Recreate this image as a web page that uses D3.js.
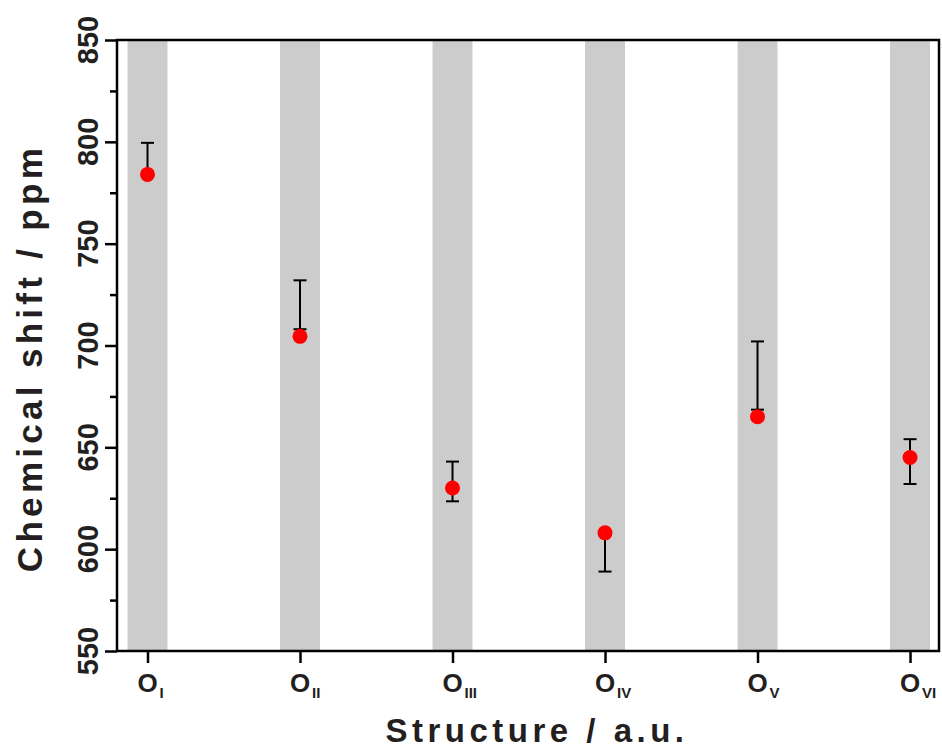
<!DOCTYPE html>
<html><head><meta charset="utf-8">
<script src="https://cdn.jsdelivr.net/npm/d3@7"></script>
<style>
body{margin:0;background:#fff;}
svg{display:block;font-family:"Liberation Sans",Arial,Helvetica,sans-serif;}
</style></head>
<body><svg id="chart" width="942" height="751"></svg>
<script>
// ---- data ----
const categories = ["I", "II", "III", "IV", "V", "VI"];
const positions = [1, 2, 3, 4, 5, 6];
const shiftValues = [784, 704.5, 630, 608, 665, 645];
const errHigh = [799.5, 732, 643, 608, 702, 654];
const errLow = [784, 708, 623.5, 589, 668.5, 632];
const yTicks = [550, 600, 650, 700, 750, 800, 850];
const yMinorTicks = [575, 625, 675, 725, 775, 825];

const svg = d3.select("#chart");
const L = 117, R = 939, T = 40, B = 651;
const x = d3.scaleLinear().domain([0.8, 6.19]).range([L, R]);
const y = d3.scaleLinear().domain([550, 850]).range([B, T]);
const textColor = "#231f20";

// bands
const bandHalf = 0.131;
svg.append("g").selectAll("rect").data(positions).join("rect")
  .attr("x", d => x(d - bandHalf))
  .attr("width", d => x(d + bandHalf) - x(d - bandHalf))
  .attr("y", T).attr("height", B - T)
  .attr("fill", "#cccccc");

// error bars
const eb = svg.append("g").attr("stroke", "#000").attr("stroke-width", 2);
positions.forEach((p, i) => {
  const cx = x(p);
  eb.append("line").attr("x1", cx).attr("x2", cx).attr("y1", y(errLow[i])).attr("y2", y(errHigh[i]));
  [errLow[i], errHigh[i]].forEach(v => {
    eb.append("line").attr("x1", cx - 6.5).attr("x2", cx + 6.5).attr("y1", y(v)).attr("y2", y(v));
  });
});

// points
svg.append("g").selectAll("circle").data(positions).join("circle")
  .attr("cx", d => x(d)).attr("cy", (d, i) => y(shiftValues[i]))
  .attr("r", 7.5).attr("fill", "#ff0000");

// y axis ticks
const yAxis = d3.axisLeft(y).tickValues(yTicks).tickSize(12).tickFormat("");
const gy = svg.append("g").attr("transform", `translate(${L},0)`).call(yAxis);
gy.select(".domain").remove();
gy.selectAll("line").attr("stroke", "#000").attr("stroke-width", 2.5);
const yAxisMinor = d3.axisLeft(y).tickValues(yMinorTicks).tickSize(7).tickFormat("");
const gym = svg.append("g").attr("transform", `translate(${L},0)`).call(yAxisMinor);
gym.select(".domain").remove();
gym.selectAll("line").attr("stroke", "#000").attr("stroke-width", 2.5);

// y tick labels
svg.append("g").selectAll("text").data(yTicks).join("text")
  .attr("transform", d => `translate(98,${y(d)}) rotate(-90)`)
  .attr("text-anchor", "middle")
  .attr("font-size", 29).attr("font-weight", "bold").attr("fill", textColor)
  .text(d => d);

// x axis ticks
const xAxis = d3.axisBottom(x).tickValues(positions).tickSize(12).tickFormat("");
const gx = svg.append("g").attr("transform", `translate(0,${B})`).call(xAxis);
gx.select(".domain").remove();
gx.selectAll("line").attr("stroke", "#000").attr("stroke-width", 2.5);

// x tick labels
const xl = svg.append("g").attr("fill", textColor).attr("font-weight", "bold");
positions.forEach((p, i) => {
  xl.append("text").attr("x", x(p)).attr("y", 692).attr("text-anchor", "middle")
    .attr("font-size", 26).text("O");
  xl.append("text").attr("x", x(p) + 12).attr("y", 698).attr("text-anchor", "start")
    .attr("font-size", 15).attr("font-family", "'Liberation Sans Narrow','Liberation Sans',Arial,sans-serif")
    .text(categories[i]);
});

// frame
svg.append("rect").attr("x", L).attr("y", T).attr("width", R - L).attr("height", B - T)
  .attr("fill", "none").attr("stroke", "#000").attr("stroke-width", 2.5);

// axis titles
svg.append("text").attr("x", 537).attr("y", 742).attr("text-anchor", "middle")
  .attr("font-size", 33).attr("font-weight", "bold").attr("letter-spacing", 4.5)
  .attr("fill", textColor).text("Structure / a.u.");
svg.append("text").attr("transform", "translate(42,358) rotate(-90)").attr("text-anchor", "middle")
  .attr("font-size", 35).attr("font-weight", "bold").attr("letter-spacing", 4.3)
  .attr("fill", textColor).text("Chemical shift / ppm");
</script></body></html>
